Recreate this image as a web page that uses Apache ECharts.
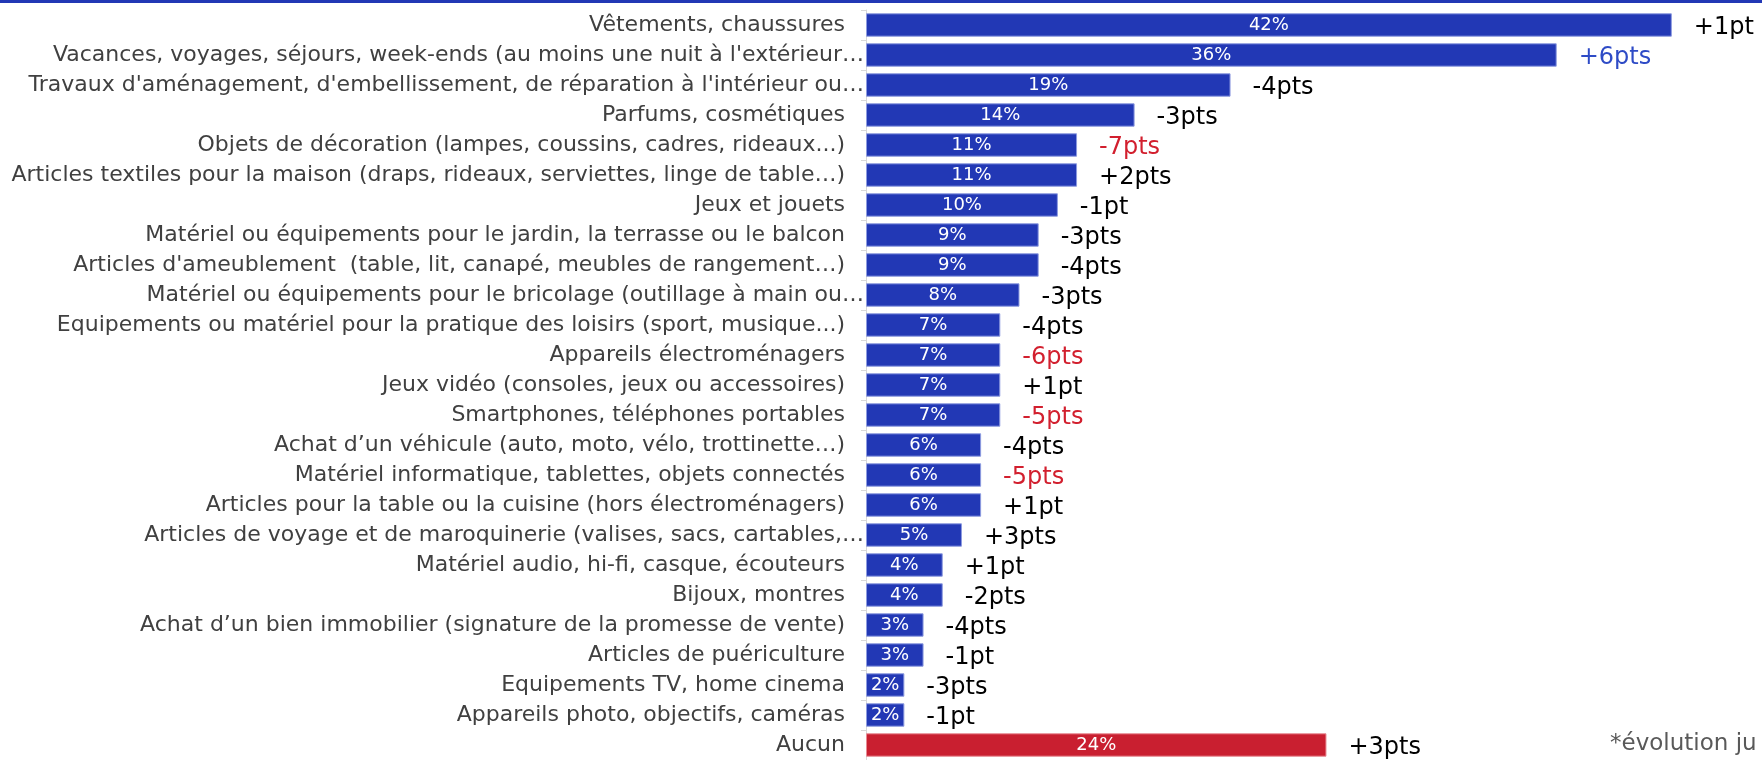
<!DOCTYPE html>
<html>
<head>
<meta charset="utf-8">
<script src="https://cdn.jsdelivr.net/npm/echarts@6/dist/echarts.min.js"></script>
<style>
  html, body { margin: 0; padding: 0; background: #fff; }
  #chart { width: 1762px; height: 760px; }
</style>
</head>
<body>
<div id="chart"></div>
<script>
// catégories (ordre d'affichage, du haut vers le bas)
const categories = [
    'Vêtements, chaussures',
    'Vacances, voyages, séjours, week-ends (au moins une nuit à l\'extérieur…',
    'Travaux d\'aménagement, d\'embellissement, de réparation à l\'intérieur ou…',
    'Parfums, cosmétiques',
    'Objets de décoration (lampes, coussins, cadres, rideaux...)',
    'Articles textiles pour la maison (draps, rideaux, serviettes, linge de table…)',
    'Jeux et jouets',
    'Matériel ou équipements pour le jardin, la terrasse ou le balcon',
    'Articles d\'ameublement  (table, lit, canapé, meubles de rangement…)',
    'Matériel ou équipements pour le bricolage (outillage à main ou…',
    'Equipements ou matériel pour la pratique des loisirs (sport, musique...)',
    'Appareils électroménagers',
    'Jeux vidéo (consoles, jeux ou accessoires)',
    'Smartphones, téléphones portables',
    'Achat d’un véhicule (auto, moto, vélo, trottinette…)',
    'Matériel informatique, tablettes, objets connectés',
    'Articles pour la table ou la cuisine (hors électroménagers)',
    'Articles de voyage et de maroquinerie (valises, sacs, cartables,…',
    'Matériel audio, hi-fi, casque, écouteurs',
    'Bijoux, montres',
    'Achat d’un bien immobilier (signature de la promesse de vente)',
    'Articles de puériculture',
    'Equipements TV, home cinema',
    'Appareils photo, objectifs, caméras',
    'Aucun'
];

// pourcentages
const values = [42, 36, 19, 14, 11, 11, 10, 9, 9, 8, 7, 7, 7, 7, 6, 6, 6, 5, 4, 4, 3, 3, 2, 2, 24];

// évolutions
const deltas = ['+1pt', '+6pts', '-4pts', '-3pts', '-7pts', '+2pts', '-1pt', '-3pts', '-4pts', '-3pts',
    '-4pts', '-6pts', '+1pt', '-5pts', '-4pts', '-5pts', '+1pt', '+3pts', '+1pt', '-2pts',
    '-4pts', '-1pt', '-3pts', '-1pt', '+3pts'];

// évolution significative : 1 hausse, -1 baisse, 0 non significative
const significance = [0, 1, 0, 0, -1, 0, 0, 0, 0, 0, 0, -1, 0, -1, 0, -1, 0, 0, 0, 0, 0, 0, 0, 0, 0];

const BLUE = '#2238b5';
const RED = '#c91f30';
const FONT = 'DejaVu Sans';

function initChart() {
    const chart = echarts.init(document.getElementById('chart'));

    const barData = values.map((v, i) => ({
        value: v,
        itemStyle: categories[i] === 'Aucun'
            ? { color: RED, borderColor: '#e88a93', borderWidth: 1 }
            : { color: BLUE, borderColor: '#8d9be0', borderWidth: 1 }
    }));

    const option = {
        animation: false,
        grid: { left: 866, right: 0, top: 10, bottom: 0, containLabel: false },
        xAxis: {
            type: 'value',
            min: 0,
            max: 46.7,
            show: false
        },
        yAxis: {
            type: 'category',
            data: categories,
            inverse: true,
            axisLine: { show: true, lineStyle: { color: '#d9d9d9', width: 1 } },
            axisTick: { show: true, length: 5, lineStyle: { color: '#d9d9d9' } },
            axisLabel: {
                margin: 2,
                fontFamily: FONT,
                fontSize: 22,
                color: '#404040',
                formatter: function (v) {
                    return v.endsWith('…') ? '{t|' + v + '}' : '{n|' + v + '}';
                },
                rich: {
                    n: { padding: [0, 19, 0, 0], fontFamily: FONT, fontSize: 22, color: '#404040' },
                    t: { fontFamily: FONT, fontSize: 22, color: '#404040' }
                }
            }
        },
        series: [
            {
                type: 'bar',
                data: barData,
                barCategoryGap: '22%',
                label: {
                    show: true,
                    position: 'inside',
                    formatter: '{c}%',
                    color: '#fff',
                    fontFamily: FONT,
                    fontSize: 18
                }
            },
            {
                // série transparente pour porter les évolutions
                type: 'bar',
                data: values,
                barGap: '-100%',
                barCategoryGap: '22%',
                silent: true,
                itemStyle: { color: 'rgba(0,0,0,0)' },
                label: {
                    show: true,
                    position: 'right',
                    distance: 22,
                    offset: [0, 3],
                    formatter: function (p) {
                        const s = significance[p.dataIndex];
                        const key = s > 0 ? 'u' : (s < 0 ? 'd' : 'n');
                        return '{' + key + '|' + deltas[p.dataIndex] + '}';
                    },
                    rich: {
                        n: { color: '#000', fontFamily: FONT, fontSize: 24 },
                        u: { color: '#2e4bc6', fontFamily: FONT, fontSize: 24 },
                        d: { color: '#d21f2e', fontFamily: FONT, fontSize: 24 }
                    }
                }
            }
        ],
        graphic: [
            {
                type: 'rect',
                left: 0,
                top: 0,
                shape: { width: 1762, height: 3 },
                style: { fill: BLUE }
            },
            {
                type: 'text',
                left: 1610,
                top: 733,
                style: {
                    text: '*évolution ju',
                    fill: '#595959',
                    font: '23px "DejaVu Sans"'
                }
            }
        ]
    };

    chart.setOption(option);
}

document.addEventListener('DOMContentLoaded', initChart);
</script>
</body>
</html>
